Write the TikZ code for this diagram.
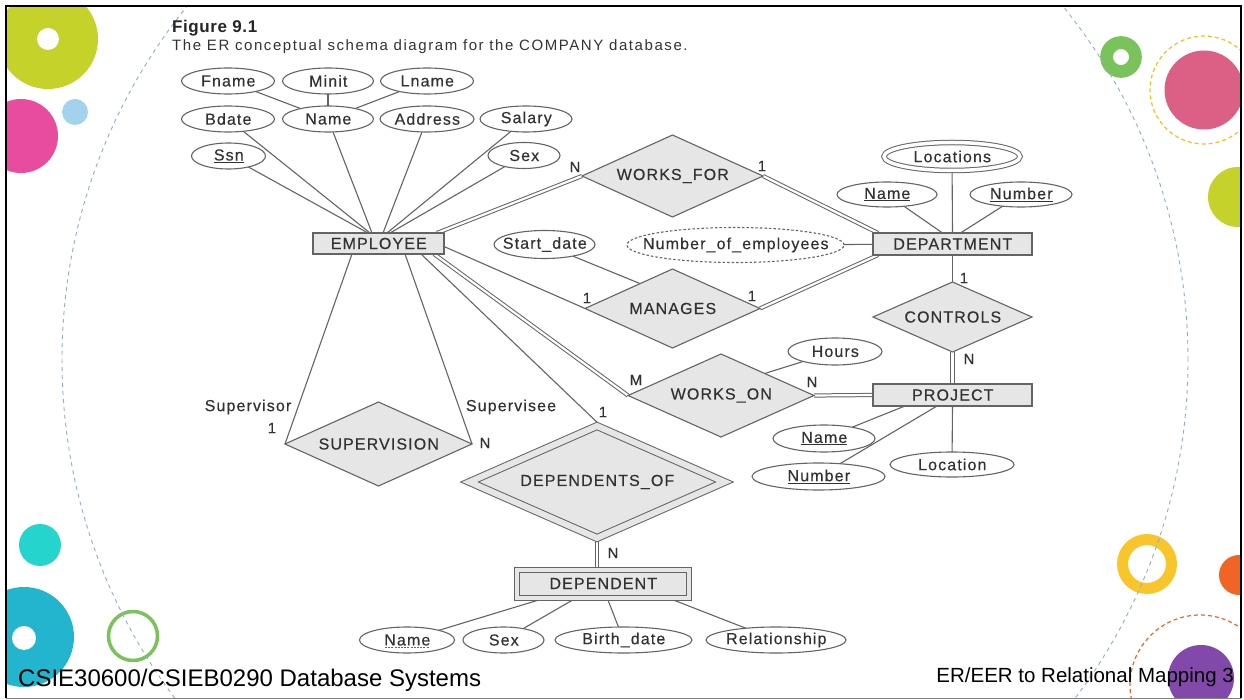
\documentclass[tikz,border=0pt]{standalone}
\usepackage{fontspec}
\setmainfont{Liberation Sans}
\newfontfamily\erfont[LetterSpace=7,FakeBold=0.35]{Liberation Sans}
\newfontfamily\capfont[LetterSpace=10.5]{Liberation Sans}
\newfontfamily\capfontb[LetterSpace=3.5]{Liberation Sans Bold}
\usetikzlibrary{shapes.geometric,calc}
\pgfdeclarelayer{back}
\pgfdeclarelayer{conns}
\pgfsetlayers{back,conns,main}
\definecolor{limec}{RGB}{197,210,42}
\definecolor{magc}{RGB}{232,76,158}
\definecolor{lbluec}{RGB}{163,210,236}
\definecolor{greenc}{RGB}{122,195,90}
\definecolor{pinkc}{RGB}{220,96,134}
\definecolor{yeldash}{RGB}{247,190,30}
\definecolor{cyanc}{RGB}{37,213,205}
\definecolor{tealc}{RGB}{35,181,205}
\definecolor{yelring}{RGB}{248,197,42}
\definecolor{orangec}{RGB}{240,100,36}
\definecolor{purplec}{RGB}{130,73,170}
\definecolor{arcc}{RGB}{140,175,205}
\definecolor{txtgray}{RGB}{50,50,50}
\definecolor{lngray}{RGB}{100,100,100}
\definecolor{boxgray}{RGB}{230,230,230}
\newcommand{\ertxt}[1]{\makebox[0pt]{\hspace{0.6pt}#1}}
\begin{document}
\begin{tikzpicture}[x=1pt,y=-1pt,
  erbase/.style={draw=lngray, line width=1.1pt, inner sep=0pt, outer sep=0pt, text=txtgray,
    font=\erfont\fontsize{16pt}{18pt}\selectfont},
  attr/.style={erbase, ellipse, fill=white, minimum height=26pt},
  ent/.style={erbase, rectangle, fill=boxgray},
  rel/.style={erbase, diamond, fill=boxgray},
  conn/.style={draw=lngray, line width=1.1pt},
  dbl/.style={draw=lngray, line width=1pt, double=white, double distance=2.2pt},
  card/.style={inner sep=0pt, text=txtgray, font=\erfont\fontsize{15pt}{16pt}\selectfont},
  role/.style={inner sep=0pt, text=txtgray, font=\erfont\fontsize{16pt}{17pt}\selectfont}]
\useasboundingbox (0,0) rectangle (1244,700);
\begin{pgfonlayer}{back}
\fill[white] (0,0) rectangle (1244,700);
\begin{scope}
\clip (6,6) rectangle (1241,698);
\fill[limec] (48,39) circle (50pt);
\fill[white] (48,39) circle (11pt);
\fill[magc] (21,136) circle (37pt);
\fill[lbluec] (75,112) circle (13pt);
\fill[cyanc] (40,545) circle (21pt);
\fill[tealc] (24,637) circle (50pt);
\fill[white] (24,638) circle (12pt);
\draw[greenc, line width=3.5pt] (133,636) circle (24.5pt);
\draw[greenc, line width=12.8pt] (1121,57) circle (14.4pt);
\fill[pinkc] (1204,90) circle (39.5pt);
\draw[yeldash, line width=1.2pt, dash pattern=on 4pt off 3pt] (1204,90) circle (54pt);
\fill[limec] (1238,197) circle (30pt);
\draw[yelring, line width=11pt] (1147,564) circle (24.5pt);
\fill[orangec] (1239,575) circle (20pt);
\draw[orangec, line width=1.2pt, dash pattern=on 4pt off 3pt] (1200,685) circle (70pt);
\fill[purplec] (1201,678) circle (33pt);
\draw[arcc, line width=0.9pt, dash pattern=on 4pt off 4pt] (625,360) circle (563pt);
\end{scope}
\draw[black, line width=2.5pt] (6,698) -- (6,6) -- (1241,6) -- (1241,698);
\draw[gray, line width=1.5pt] (6,698.5) -- (1241,698.5);
\end{pgfonlayer}

% caption
\node[anchor=base west, inner sep=0pt, text=black!85, font=\capfontb\fontsize{17pt}{18pt}\selectfont] (fig) at (172,33) {Figure 9.1};
\node[anchor=base west, inner sep=0pt, text=black!80, font=\capfont\fontsize{15pt}{16pt}\selectfont] (cap) at (172,51) {The ER conceptual schema diagram for the COMPANY database.};

% EMPLOYEE attributes
\node[attr, minimum width=93pt] (fname) at (228,81) {\ertxt{Fname}};
\node[attr, minimum width=91pt] (minit) at (328,81) {\ertxt{Minit}};
\node[attr, minimum width=93pt] (lname) at (427,81) {\ertxt{Lname}};
\node[attr, minimum width=93pt] (bdate) at (228,119) {\ertxt{Bdate}};
\node[attr, minimum width=91pt] (ename) at (328,119) {\ertxt{Name}};
\node[attr, minimum width=94pt] (address) at (427,119) {\ertxt{Address}};
\node[attr, minimum width=92pt] (salary) at (526,119) {\ertxt{Salary}};
\node[attr, minimum width=74pt] (ssn) at (228.5,156) {\ertxt{\underline{Ssn}}};
\node[attr, minimum width=72pt] (esex) at (524,155.5) {\ertxt{Sex}};

% entities
\node[ent, minimum width=131pt, minimum height=21pt] (emp) at (378.5,243.5) {\ertxt{EMPLOYEE}};
\node[ent, minimum width=159pt, minimum height=22pt] (dept) at (952.5,244) {\ertxt{DEPARTMENT}};
\node[ent, minimum width=159pt, minimum height=22pt] (proj) at (952.5,395) {\ertxt{PROJECT}};
\node[ent, double=boxgray, line width=1pt, double distance=4pt, minimum width=172pt, minimum height=28pt] (dep) at (603,583.5) {\ertxt{DEPENDENT}};

% relationships
\node[rel, minimum width=181pt, minimum height=82pt] (wf) at (672.5,176) {\ertxt{WORKS\_FOR}};
\node[rel, minimum width=175pt, minimum height=79pt] (man) at (672.5,308.5) {\ertxt{MANAGES}};
\node[rel, minimum width=186pt, minimum height=83pt] (wo) at (721,395.5) {\ertxt{WORKS\_ON}};
\node[rel, minimum width=159pt, minimum height=70pt] (ctl) at (952.5,317) {\ertxt{CONTROLS}};
\node[rel, minimum width=187pt, minimum height=84pt] (sup) at (378.5,444) {\ertxt{SUPERVISION}};
\node[rel, double=boxgray, line width=1pt, double distance=6pt, minimum width=255pt, minimum height=112pt] (depof) at (597,482) {\ertxt{\raisebox{-2pt}{DEPENDENTS\_OF}}};

% other attributes
\node[attr, double, line width=1pt, double distance=3.5pt, minimum width=136pt, minimum height=28pt] (loc) at (952,156.5) {\ertxt{Locations}};
\node[attr, minimum width=100pt, minimum height=25pt] (dname) at (887,194.5) {\ertxt{\underline{Name}}};
\node[attr, minimum width=102pt, minimum height=25pt] (dnum) at (1021,194.5) {\ertxt{\underline{Number}}};
\node[attr, dash pattern=on 2.5pt off 2pt, minimum width=217pt, minimum height=35pt] (noe) at (735.5,245) {\ertxt{Number\_of\_employees}};
\node[attr, minimum width=101pt, minimum height=28pt] (sdate) at (544.5,244.5) {\ertxt{Start\_date}};
\node[attr, minimum width=94pt, minimum height=27pt] (hours) at (835,351.5) {\ertxt{Hours}};
\node[attr, minimum width=102pt, minimum height=27pt] (pname) at (824,438.5) {\ertxt{\underline{Name}}};
\node[attr, minimum width=133pt, minimum height=27pt] (pnum) at (818.5,476.5) {\ertxt{\underline{Number}}};
\node[attr, minimum width=124pt, minimum height=25pt] (ploc) at (952,464.5) {\ertxt{Location}};
\node[attr, minimum width=95pt] (depname) at (407,640) {\ertxt{Name}};
\node[attr, minimum width=81pt] (depsex) at (503.5,640) {\ertxt{Sex}};
\node[attr, minimum width=137pt] (bdate2) at (623.5,640) {\ertxt{Birth\_date}};
\node[attr, minimum width=140pt] (relship) at (776,640) {\ertxt{Relationship}};
\draw[lngray, line width=0.9pt, dash pattern=on 2pt off 1.2pt] ($(depname.center)+(-22,7.5)$) -- ($(depname.center)+(22,7.5)$);

% cardinalities and roles
\node[card] (cwfn) at (575,167) {N};
\node[card] (cwf1) at (762,166) {1};
\node[card] (cman1) at (587,298) {1};
\node[card] (cman2) at (752,296) {1};
\node[card] (cwom) at (636,380) {M};
\node[card] (cwon) at (812,382) {N};
\node[card] (cctl1) at (964,278) {1};
\node[card] (cctln) at (969,359) {N};
\node[card] (csup1) at (272,428) {1};
\node[card] (csupn) at (485,443) {N};
\node[card] (cdep1) at (603,412) {1};
\node[card] (cdepn) at (613,553) {N};
\node[role] (supervisor) at (248,407) {Supervisor};
\node[role] (supervisee) at (511,407) {Supervisee};

% connectors
\begin{pgfonlayer}{conns}
\draw[conn] (fname) -- (ename);
\draw[conn] (minit) -- (ename);
\draw[conn] (lname) -- (ename);
\draw[conn] (ssn) -- ($(emp.north)+(-10.5,0)$);
\draw[conn] (bdate) -- ($(emp.north)+(-8.5,0)$);
\draw[conn] (ename) -- ($(emp.north)+(-6.5,0)$);
\draw[conn] (address) -- ($(emp.north)+(4.5,0)$);
\draw[conn] (salary) -- ($(emp.north)+(8.5,0)$);
\draw[conn] (esex) -- ($(emp.north)+(11.5,0)$);
\draw[dbl] ($(emp.north)+(58.5,0)$) -- (wf.west);
\draw[dbl] (wf.east) -- ($(dept.north west)+(5,0)$);
\draw[conn] ($(emp.east)+(0,3)$) -- (man.west);
\draw[dbl] (man.east) -- ($(dept.south west)+(5,0)$);
\draw[conn] (sdate) -- ($(man.west)!0.63!(man.north)$);
\draw[conn] (noe) -- (dept);
\draw[dbl] ($(emp.south)+(55.5,0)$) -- (wo.west);
\draw[dbl] (wo.east) -- (proj.west);
\draw[conn] (hours) -- ($(wo.north)!0.47!(wo.east)$);
\draw[conn] (dept.south) -- (ctl.north);
\draw[dbl] (ctl.south) -- (proj.north);
\draw[conn] ($(emp.south)+(-26.5,0)$) -- (sup.west);
\draw[conn] ($(emp.south)+(26.5,0)$) -- (sup.east);
\draw[conn] ($(emp.south)+(42.5,0)$) -- ($(depof.north)+(0,-3.8)$);
\draw[dbl] (depof.south) -- ($(dep.north)+(-6,0)$);
\draw[conn] (loc) -- (dept.north);
\draw[conn] (dname) -- ($(dept.north)+(-10,0)$);
\draw[conn] (dnum) -- ($(dept.north)+(8,0)$);
\draw[conn] (pname) -- ($(proj.south)+(-47.5,0)$);
\draw[conn] (pnum) -- ($(proj.south)+(-15.5,0)$);
\draw[conn] (ploc) -- (proj.south);
\draw[conn] (depname) -- ($(dep.south)+(-56,0)$);
\draw[conn] (depsex) -- ($(dep.south)+(-26,0)$);
\draw[conn] (bdate2) -- ($(dep.south)+(4,0)$);
\draw[conn] (relship) -- ($(dep.south)+(64,0)$);
\end{pgfonlayer}

% footer
\node[anchor=base west, inner sep=0pt, font=\fontsize{24pt}{26pt}\selectfont] (foot1) at (18,686) {CSIE30600/CSIEB0290 Database Systems};
\node[anchor=base east, inner sep=0pt, font=\fontsize{20.5pt}{22pt}\selectfont] (foot2) at (1234,682) {ER/EER to Relational Mapping 3};
\end{tikzpicture}
\end{document}
